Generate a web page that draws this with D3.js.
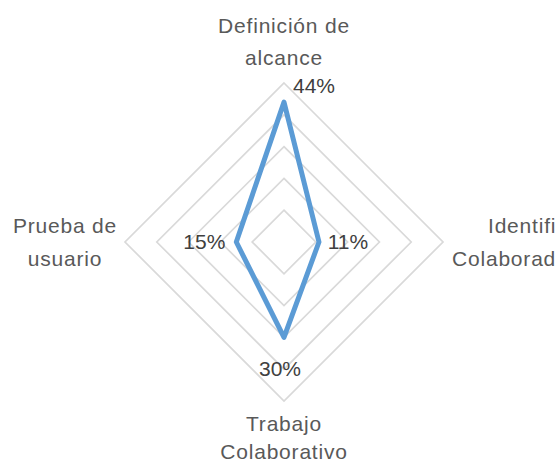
<!DOCTYPE html>
<html>
<head>
<meta charset="utf-8">
<script src="https://cdn.jsdelivr.net/npm/d3@7"></script>
<style>
  html, body { margin: 0; padding: 0; background: #fff; }
  svg { display: block; }
</style>
</head>
<body>
<div id="chart"></div>
<script>
// ---- data ----
const categories = ["Definición de alcance", "Identificación de Colaboradores", "Trabajo Colaborativo", "Prueba de usuario"];
const categoryLines = [["Definición de", "alcance"], ["Identificación", "Colaboradores"], ["Trabajo", "Colaborativo"], ["Prueba de", "usuario"]];
const values = [0.44, 0.11, 0.30, 0.15];
const ringTicks = [0.1, 0.2, 0.3, 0.4, 0.5];

// ---- layout ----
const W = 555, H = 464;
const cx = 284, cy = 242, R = 159;
const font = "'Liberation Sans', Arial, sans-serif";

const svg = d3.select("#chart").append("svg")
  .attr("width", W).attr("height", H);

const r = d3.scaleLinear().domain([0, d3.max(ringTicks)]).range([0, R]);
const angle = d3.scaleLinear().domain([0, categories.length]).range([0, 2 * Math.PI]);

const g = svg.append("g").attr("transform", `translate(${cx},${cy})`);

// grid rings
const ringLine = d3.lineRadial()
  .angle((d, i) => angle(i))
  .radius(d => r(d))
  .curve(d3.curveLinearClosed);

g.selectAll("path.ring").data(ringTicks).join("path")
  .attr("class", "ring")
  .attr("d", t => ringLine(categories.map(() => t)))
  .attr("fill", "none")
  .attr("stroke", "#d9d9d9")
  .attr("stroke-width", 1.7);

// series
g.append("path")
  .attr("d", ringLine(values))
  .attr("fill", "none")
  .attr("stroke", "#5b9bd5")
  .attr("stroke-width", 5)
  .attr("stroke-linejoin", "round");

// point positions
const pt = (v, i) => {
  const a = angle(i) - Math.PI / 2;
  return [r(v) * Math.cos(a), r(v) * Math.sin(a)];
};

// value labels
const fmt = d3.format(".0%");
const labelShift = [[30, -9], [29, 7], [-4, 39], [-32, 7]];
g.selectAll("text.val").data(values).join("text")
  .attr("class", "val")
  .attr("x", (d, i) => pt(d, i)[0] + labelShift[i][0])
  .attr("y", (d, i) => pt(d, i)[1] + labelShift[i][1])
  .attr("text-anchor", "middle")
  .attr("font-family", font)
  .attr("font-size", 21)
  .attr("fill", "#404040")
  .text(d => fmt(d));

// category labels
const catPos = [
  { ys: [-R - 50, -R - 18], anchor: "middle", xs: [0, 0] },
  { ys: [-9, 24], anchor: "start", xs: [204, 168] },
  { ys: [R + 30, R + 58], anchor: "middle", xs: [0, 0] },
  { ys: [-9, 24], anchor: "middle", xs: [-219, -219] }
];
categoryLines.forEach((lines, i) => {
  const p = catPos[i];
  lines.forEach((line, j) => {
    g.append("text")
      .attr("x", p.xs[j])
      .attr("y", p.ys[j])
      .attr("text-anchor", p.anchor)
      .attr("font-family", font)
      .attr("font-size", 21)
      .attr("letter-spacing", 0.8)
      .attr("fill", "#595959")
      .text(line);
  });
});
</script>
</body>
</html>
